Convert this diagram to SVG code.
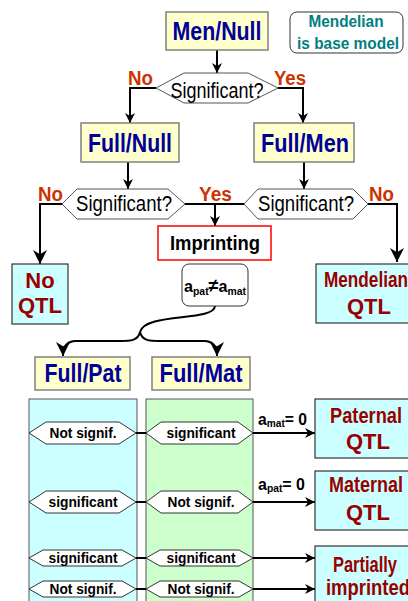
<svg xmlns="http://www.w3.org/2000/svg" width="408" height="601" viewBox="0 0 408 601">
<defs>
<marker id="ah" viewBox="0 0 10 10" refX="10" refY="5" markerWidth="5" markerHeight="5" orient="auto" markerUnits="strokeWidth">
<path d="M0,0 L10,5 L0,10 L3,5 Z" fill="#000"/>
</marker>
<marker id="ah2" viewBox="0 0 10 10" refX="10" refY="5" markerWidth="7" markerHeight="7" orient="auto" markerUnits="strokeWidth">
<path d="M0,0 L10,5 L0,10 L3,5 Z" fill="#000"/>
</marker>
</defs>
<style>
text{font-family:"Liberation Sans",Arial,sans-serif;text-anchor:middle}
.model rect{fill:#ffffcc;stroke:#808080;stroke-width:1.5}
.model text{font-weight:bold;fill:#000099;font-size:25px}
.hex polygon{fill:#fff;stroke:#555;stroke-width:1}
.hex text{font-size:22px;fill:#000}
.yn{font-weight:bold;fill:#cc3300;font-size:20px;text-anchor:start}
.res rect{fill:#ccffff;stroke:#333;stroke-width:1.2}
.res text{font-weight:bold;fill:#990000;font-size:22px}
.sh polygon{fill:#fff;stroke:#333;stroke-width:1}
.sh text{font-size:14px;font-weight:bold;fill:#000}
.c{fill:none;stroke:#000;stroke-width:2}
.lbl{font-weight:bold;font-size:17px;text-anchor:start}
</style>
<rect width="408" height="601" fill="#fff"/>
<g id="colPat"><rect x="29" y="399" width="108" height="210" fill="#ccffff" stroke="#555" stroke-width="1"/></g>
<g id="colMat"><rect x="146" y="399" width="107" height="210" fill="#ccffcc" stroke="#555" stroke-width="1"/></g>

<g id="connectors">
<path class="c" d="M217,50 V73" marker-end="url(#ah)"/>
<path class="c" d="M156,88 H130 V123" marker-end="url(#ah)"/>
<path class="c" d="M278,88 H303 V123" marker-end="url(#ah)"/>
<path class="c" d="M128,162 V189" marker-end="url(#ah)"/>
<path class="c" d="M304,162 V189" marker-end="url(#ah)"/>
<path class="c" d="M62,204 H40 V264" stroke-width="1.5" marker-end="url(#ah2)"/>
<path class="c" d="M368,204 H397 V262" stroke-width="1.5" marker-end="url(#ah2)"/>
<path class="c" d="M185,204 H244"/>
<path class="c" d="M215,204 V226" marker-end="url(#ah)"/>
<path class="c" d="M215,306 C214,322 145,312 140,332" stroke-width="1.5"/>
<path class="c" d="M140,332 C138,341 130,341 120,341 L76,341 Q63,341 63,356" stroke-width="1.5" marker-end="url(#ah2)"/>
<path class="c" d="M140,332 C142,341 150,341 160,341 L204,341 Q217,341 217,356" stroke-width="1.5" marker-end="url(#ah2)"/>
<path class="c" d="M136,433 H146 M136,502 H146 M136,558 H146 M136,589 H146" stroke-width="3"/>
<path class="c" d="M253,433 H315" marker-end="url(#ah)"/>
<path class="c" d="M253,502 H315" marker-end="url(#ah)"/>
<path class="c" d="M253,558 H315" marker-end="url(#ah)"/>
<path class="c" d="M253,589 H315" marker-end="url(#ah)"/>
<text class="yn" x="128" y="85" textLength="25" lengthAdjust="spacingAndGlyphs">No</text>
<text class="yn" x="274" y="85" textLength="32" lengthAdjust="spacingAndGlyphs">Yes</text>
<text class="yn" x="38" y="201" textLength="25" lengthAdjust="spacingAndGlyphs">No</text>
<text class="yn" x="199" y="201" textLength="33" lengthAdjust="spacingAndGlyphs">Yes</text>
<text class="yn" x="369" y="201" textLength="25" lengthAdjust="spacingAndGlyphs">No</text>
<text class="lbl" x="258" y="425" textLength="49" lengthAdjust="spacingAndGlyphs">a<tspan font-size="11" dy="2">mat</tspan><tspan dy="-2">= 0</tspan></text>
<text class="lbl" x="258" y="490" textLength="47" lengthAdjust="spacingAndGlyphs">a<tspan font-size="11" dy="2">pat</tspan><tspan dy="-2">= 0</tspan></text>
</g>

<g id="menNull" class="model"><rect x="166" y="12" width="102" height="38"/><text x="217" y="40" textLength="89" lengthAdjust="spacingAndGlyphs">Men/Null</text></g>
<g id="baseNote"><rect x="290" y="12" width="113" height="41" rx="7" fill="#fff" stroke="#333" stroke-width="1"/>
<text x="346" y="27" font-weight="bold" font-size="17" fill="#008080" textLength="75" lengthAdjust="spacingAndGlyphs">Mendelian</text>
<text x="348" y="49" font-weight="bold" font-size="17" fill="#008080" textLength="102" lengthAdjust="spacingAndGlyphs">is base model</text></g>
<g id="sig1" class="hex"><polygon points="156,88 184,73 248,73 278,88 248,103 184,103"/><text x="217" y="98" textLength="93" lengthAdjust="spacingAndGlyphs">Significant?</text></g>
<g id="fullNull" class="model"><rect x="81" y="123" width="98" height="39"/><text x="130" y="152" textLength="84" lengthAdjust="spacingAndGlyphs">Full/Null</text></g>
<g id="fullMen" class="model"><rect x="254" y="123" width="100" height="39"/><text x="305" y="152" textLength="88" lengthAdjust="spacingAndGlyphs">Full/Men</text></g>
<g id="sig2" class="hex"><polygon points="62,204 77,189 168,189 185,204 168,219 77,219"/><text x="124" y="211" textLength="96" lengthAdjust="spacingAndGlyphs">Significant?</text></g>
<g id="sig3" class="hex"><polygon points="244,204 258,189 353,189 368,204 353,219 258,219"/><text x="306" y="211" textLength="96" lengthAdjust="spacingAndGlyphs">Significant?</text></g>
<g id="imprinting"><rect x="158" y="226" width="113" height="34" fill="#fff" stroke="#ff0000" stroke-width="1.5"/><text x="215" y="250" font-weight="bold" font-size="20" textLength="90" lengthAdjust="spacingAndGlyphs">Imprinting</text></g>
<g id="apatamat"><rect x="182" y="264" width="66" height="42" rx="7" fill="#fff" stroke="#333" stroke-width="1"/>
<text x="215" y="292" font-weight="bold" font-size="17" textLength="62" lengthAdjust="spacingAndGlyphs">a<tspan font-size="11" dy="3">pat</tspan><tspan dy="-3" font-size="19">≠</tspan>a<tspan font-size="11" dy="3">mat</tspan></text></g>
<g id="noQTL" class="res"><rect x="12" y="264" width="56" height="60"/><text x="40" y="288">No</text><text x="40" y="313">QTL</text></g>
<g id="menQTL" class="res"><rect x="316" y="264" width="108" height="59"/><text x="366" y="287" textLength="84" lengthAdjust="spacingAndGlyphs">Mendelian</text><text x="369" y="314">QTL</text></g>
<g id="fullPat" class="model"><rect x="35" y="357" width="95" height="33"/><text x="83" y="382" font-size="23" textLength="77" lengthAdjust="spacingAndGlyphs">Full/Pat</text></g>
<g id="fullMat" class="model"><rect x="152" y="357" width="98" height="33"/><text x="201" y="382" font-size="23" textLength="83" lengthAdjust="spacingAndGlyphs">Full/Mat</text></g>

<g id="r1a" class="sh"><polygon points="29,433 46,422 119,422 136,433 119,444 46,444"/><text x="83" y="438" textLength="67" lengthAdjust="spacingAndGlyphs">Not signif.</text></g>
<g id="r1b" class="sh"><polygon points="146,433 161,422 238,422 253,433 238,444 161,444"/><text x="201" y="438" textLength="69" lengthAdjust="spacingAndGlyphs">significant</text></g>
<g id="r2a" class="sh"><polygon points="29,502 46,491 119,491 136,502 119,513 46,513"/><text x="83" y="507" textLength="69" lengthAdjust="spacingAndGlyphs">significant</text></g>
<g id="r2b" class="sh"><polygon points="146,502 161,491 238,491 253,502 238,513 161,513"/><text x="201" y="507" textLength="67" lengthAdjust="spacingAndGlyphs">Not signif.</text></g>
<g id="r3a" class="sh"><polygon points="29,558 43,550 122,550 136,558 122,566 43,566"/><text x="83" y="563" textLength="69" lengthAdjust="spacingAndGlyphs">significant</text></g>
<g id="r3b" class="sh"><polygon points="146,558 160,550 239,550 253,558 239,566 160,566"/><text x="201" y="563" textLength="69" lengthAdjust="spacingAndGlyphs">significant</text></g>
<g id="r4a" class="sh"><polygon points="29,589 43,581 122,581 136,589 122,597 43,597"/><text x="83" y="594" textLength="67" lengthAdjust="spacingAndGlyphs">Not signif.</text></g>
<g id="r4b" class="sh"><polygon points="146,589 160,581 239,581 253,589 239,597 160,597"/><text x="201" y="594" textLength="67" lengthAdjust="spacingAndGlyphs">Not signif.</text></g>

<g id="patQTL" class="res"><rect x="315" y="399" width="106" height="59"/><text x="366" y="423" textLength="72" lengthAdjust="spacingAndGlyphs">Paternal</text><text x="368" y="449">QTL</text></g>
<g id="matQTL" class="res"><rect x="315" y="471" width="106" height="59"/><text x="366" y="492" textLength="74" lengthAdjust="spacingAndGlyphs">Maternal</text><text x="368" y="520">QTL</text></g>
<g id="partial" class="res"><rect x="315" y="546" width="106" height="70"/><text x="365" y="572" font-size="21" textLength="64" lengthAdjust="spacingAndGlyphs">Partially</text><text x="368" y="595" font-size="21" textLength="84" lengthAdjust="spacingAndGlyphs">imprinted</text></g>
</svg>
